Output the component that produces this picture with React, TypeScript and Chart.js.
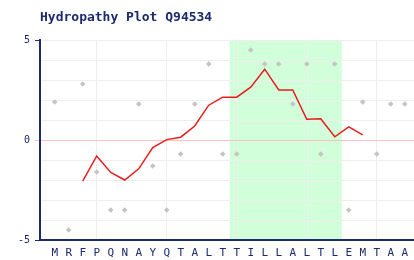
import React, { useEffect, useRef } from 'react';
import { Chart, registerables } from 'chart.js';

Chart.register(...registerables);

const TITLE = 'Hydropathy Plot Q94534';
const residues = ['M', 'R', 'F', 'P', 'Q', 'N', 'A', 'Y', 'Q', 'T', 'A', 'L', 'T', 'T', 'I', 'L', 'L', 'A', 'L', 'T', 'L', 'E', 'M', 'T', 'A', 'A'];
const hydropathy = [1.9, -4.5, 2.8, -1.6, -3.5, -3.5, 1.8, -1.3, -3.5, -0.7, 1.8, 3.8, -0.7, -0.7, 4.5, 3.8, 3.8, 1.8, 3.8, -0.7, 3.8, -3.5, 1.9, -0.7, 1.8, 1.8];
const averageStart = 2;
const averaged = [-2.06, -0.8, -1.62, -2.0, -1.44, -0.38, 0.02, 0.14, 0.7, 1.74, 2.14, 2.14, 2.64, 3.54, 2.5, 2.5, 1.04, 1.06, 0.16, 0.66, 0.26];
const regionStart = 13;
const regionEnd = 20;
const yLabelValues = [-5, 0, 5];
const xGridEvery = 5;
const xGridFirst = 3;

const NAVY = '#1c2a6e';

export default function App() {
  const ref = useRef<HTMLCanvasElement | null>(null);

  useEffect(() => {
    if (!ref.current) return;

    const bandPlugin = {
      id: 'band',
      beforeDraw(chart: any) {
        const { ctx, chartArea, scales } = chart;
        const x = scales.x;
        const x0 = x.getPixelForValue(regionStart - 0.5);
        const x1 = x.getPixelForValue(regionEnd + 0.5);
        ctx.save();
        ctx.fillStyle = 'rgb(208,255,218)';
        ctx.fillRect(x0, chartArea.top, x1 - x0, chartArea.bottom - chartArea.top);
        ctx.restore();
      },
    };

    const titlePlugin = {
      id: 'customTitle',
      afterDraw(chart: any) {
        const { ctx, chartArea } = chart;
        ctx.save();
        ctx.fillStyle = NAVY;
        ctx.font = 'bold 13px "DejaVu Sans Mono"';
        ctx.textAlign = 'left';
        ctx.textBaseline = 'middle';
        ctx.fillText(TITLE, chartArea.left, 18);
        ctx.restore();
      },
    };

    const chart = new Chart(ref.current, {
      type: 'line',
      data: {
        datasets: [
          {
            label: 'average',
            data: averaged.map((v, k) => ({ x: averageStart + k, y: v })),
            borderColor: 'rgb(232,28,28)',
            borderWidth: 1.5,
            pointRadius: 0,
            fill: false,
            tension: 0,
          },
          {
            label: 'hydropathy',
            data: hydropathy.map((v, i) => ({ x: i, y: v })),
            showLine: false,
            pointStyle: 'rectRot',
            pointRadius: 2.8,
            pointBackgroundColor: '#c4c4c4',
            pointBorderColor: '#c4c4c4',
            pointBorderWidth: 0,
          },
        ],
      },
      options: {
        animation: false,
        responsive: false,
        layout: { autoPadding: false, padding: { top: 40, left: 0, right: 0, bottom: 0 } },
        plugins: {
          legend: { display: false },
          tooltip: { enabled: false },
          title: { display: false },
        },
        scales: {
          x: {
            type: 'linear',
            min: -1.05,
            max: 25.66,
            afterBuildTicks: (scale: any) => {
              scale.ticks = residues.map((_, i) => ({ value: i }));
            },
            afterFit: (scale: any) => {
              scale.height = 20;
              scale.paddingLeft = 0;
              scale.paddingRight = 0;
            },
            ticks: {
              autoSkip: false,
              maxRotation: 0,
              padding: 7,
              color: NAVY,
              font: { family: 'DejaVu Sans Mono', size: 11 },
              callback: (v: any) => residues[Math.round(Number(v))] ?? '',
            },
            grid: {
              drawTicks: false,
              color: (ctx: any) => {
                const v = ctx.tick?.value;
                return v >= xGridFirst && (v - xGridFirst) % xGridEvery === 0 ? '#eeeeee' : 'rgba(0,0,0,0)';
              },
              lineWidth: 1,
            },
            border: { display: true, color: NAVY, width: 2 },
          },
          y: {
            type: 'linear',
            min: -5,
            max: 5,
            afterFit: (scale: any) => {
              scale.width = 40;
              scale.paddingTop = 0;
              scale.paddingBottom = 0;
            },
            ticks: {
              stepSize: 1,
              autoSkip: false,
              padding: 5,
              color: NAVY,
              font: { family: 'DejaVu Sans Mono', size: 10 },
              callback: (v: any) => (yLabelValues.includes(Number(v)) ? String(v) : ''),
            },
            grid: {
              drawTicks: true,
              tickLength: 5,
              color: (ctx: any) => (ctx.tick?.value === 0 ? '#ffc0c0' : '#eeeeee'),
              tickColor: (ctx: any) => {
                const v = ctx.tick?.value;
                if (v === 0) return '#ffc0c0';
                if (v === 5 || v === -5) return NAVY;
                return 'rgba(0,0,0,0)';
              },
              lineWidth: 1,
            },
            border: { display: true, color: NAVY, width: 2 },
          },
        },
      },
      plugins: [bandPlugin, titlePlugin],
    });

    return () => chart.destroy();
  }, []);

  return (
    <div style={{ position: 'fixed', left: 0, top: 0, width: 414, height: 260, background: '#fff' }}>
      <canvas ref={ref} width={414} height={260} style={{ width: 414, height: 260, display: 'block' }} />
    </div>
  );
}
